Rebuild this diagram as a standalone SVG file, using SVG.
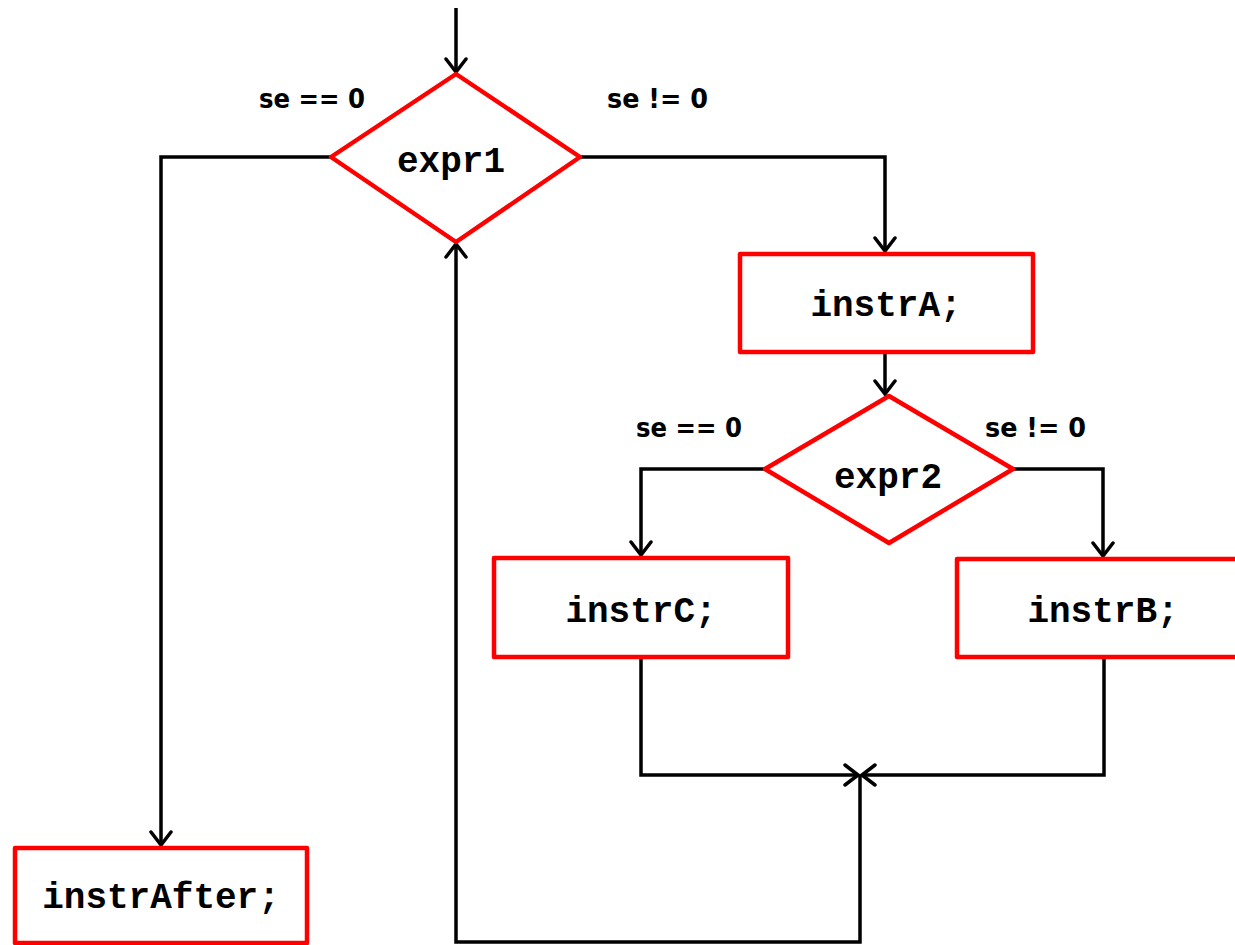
<svg xmlns="http://www.w3.org/2000/svg" width="1235" height="945" viewBox="0 0 1235 945">
<style>
.box{fill:#fff;stroke:#ff0000;stroke-width:4.5;stroke-linejoin:round}
.code{font-family:"Liberation Mono","Courier New",monospace;font-weight:bold;font-size:36px;fill:#000;text-anchor:middle}
.lbl{font-family:"DejaVu Sans","Verdana",sans-serif;font-weight:bold;font-size:27px;fill:#000}
.ln{fill:none;stroke:#000;stroke-width:3.5;stroke-linejoin:miter}
</style>
<defs>
<marker id="ah" viewBox="-15 -12 17 24" markerWidth="17" markerHeight="24" refX="0" refY="0" orient="auto" markerUnits="userSpaceOnUse">
<path d="M-13,-10 L0,0 L-13,10" fill="none" stroke="#000" stroke-width="3.5" stroke-linecap="round"/>
</marker>
</defs>
<g id="connectors">
<path class="ln" d="M456,8 L456,72" marker-end="url(#ah)"/>
<path class="ln" d="M331,157 L161,157 L161,845" marker-end="url(#ah)"/>
<path class="ln" d="M580,157 L885,157 L885,251" marker-end="url(#ah)"/>
<path class="ln" d="M885,352 L885,394" marker-end="url(#ah)"/>
<path class="ln" d="M765,469 L641,469 L641,555" marker-end="url(#ah)"/>
<path class="ln" d="M1013,469 L1103,469 L1103,556" marker-end="url(#ah)"/>
<path class="ln" d="M641,657 L641,775 L858,775" marker-end="url(#ah)"/>
<path class="ln" d="M1104,657 L1104,775 L862,775" marker-end="url(#ah)"/>
<path class="ln" d="M860,775 L860,942 L456,942 L456,244" marker-end="url(#ah)"/>
</g>
<g id="expr1">
<polygon class="box" points="456,74 580,157 456,242 331,157"/>
<text class="code" x="451" y="172">expr1</text>
</g>
<g id="instrA">
<rect class="box" x="740" y="254" width="293" height="98"/>
<text class="code" x="886" y="316">instrA;</text>
</g>
<g id="expr2">
<polygon class="box" points="889,396 1013,469 889,543 765,469"/>
<text class="code" x="888" y="488">expr2</text>
</g>
<g id="instrC">
<rect class="box" x="494" y="558" width="294" height="99"/>
<text class="code" x="641" y="622">instrC;</text>
</g>
<g id="instrB">
<rect class="box" x="957" y="559" width="285" height="98"/>
<text class="code" x="1103" y="622">instrB;</text>
</g>
<g id="instrAfter">
<rect class="box" x="15" y="848" width="292" height="95"/>
<text class="code" x="161" y="908">instrAfter;</text>
</g>
<g id="labels">
<text class="lbl" x="259" y="108" textLength="106" lengthAdjust="spacingAndGlyphs">se == 0</text>
<text class="lbl" x="607" y="108" textLength="101" lengthAdjust="spacingAndGlyphs">se != 0</text>
<text class="lbl" x="636" y="437" textLength="106" lengthAdjust="spacingAndGlyphs">se == 0</text>
<text class="lbl" x="985" y="437" textLength="101" lengthAdjust="spacingAndGlyphs">se != 0</text>
</g>
</svg>
